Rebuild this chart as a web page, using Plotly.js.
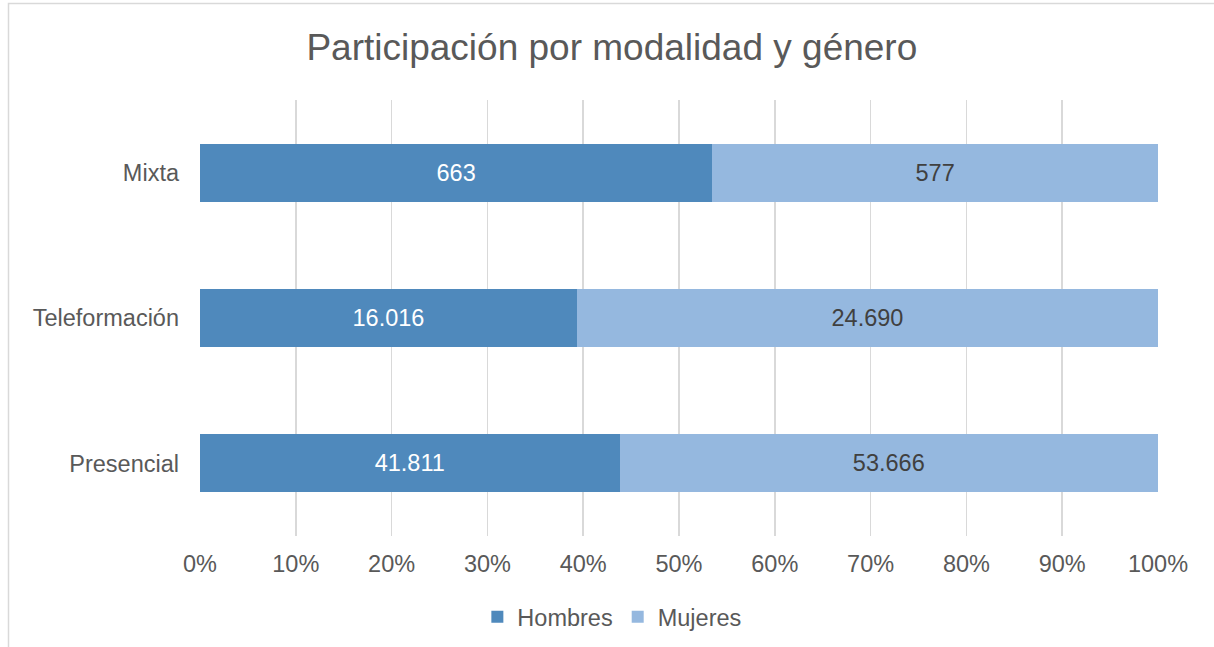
<!DOCTYPE html>
<html>
<head>
<meta charset="utf-8">
<script src="https://cdn.plot.ly/plotly-3.0.1.min.js"></script>
<style>
html,body{margin:0;padding:0;background:#fff;}
#chart{width:1214px;height:647px;}
</style>
</head>
<body>
<div id="chart"></div>
<script>
const categories = ["Presencial", "Teleformación", "Mixta"];
const hombres = [41811, 16016, 663];
const mujeres = [53666, 24690, 577];
const tickVals = [0, 10, 20, 30, 40, 50, 60, 70, 80, 90, 100];
const tickText = ["0%", "10%", "20%", "30%", "40%", "50%", "60%", "70%", "80%", "90%", "100%"];

const font = "Liberation Sans, Arial, sans-serif";
const fs = 23.5;

const traces = [
  {
    type: "bar", orientation: "h", name: "Hombres",
    y: categories, x: hombres, customdata: hombres,
    marker: {color: "#4f89bc"},
    texttemplate: "%{customdata:,}", textposition: "inside", insidetextanchor: "middle",
    textfont: {family: font, size: fs, color: "#ffffff"},
    hoverinfo: "skip"
  },
  {
    type: "bar", orientation: "h", name: "Mujeres",
    y: categories, x: mujeres, customdata: mujeres,
    marker: {color: "#95b8df"},
    texttemplate: "%{customdata:,}", textposition: "inside", insidetextanchor: "middle",
    textfont: {family: font, size: fs, color: "#404040"},
    hoverinfo: "skip"
  }
];

const layout = {
  width: 1214, height: 647,
  paper_bgcolor: "#ffffff", plot_bgcolor: "#ffffff",
  separators: ",.",
  barmode: "stack", barnorm: "percent", bargap: 0.6,
  font: {family: font, color: "#595959", size: fs},
  title: {text: "Participación por modalidad y género", font: {family: font, size: 37, color: "#595959"},
          x: 0.504, xanchor: "center", y: 0.927, yanchor: "middle"},
  margin: {l: 199.5, r: 55.5, t: 100, b: 111, autoexpand: false},
  xaxis: {range: [0, 100], tickvals: tickVals, ticktext: tickText, showgrid: true,
          gridcolor: "#d9d9d9", gridwidth: 1.5, zeroline: false, showline: false, ticks: "",
          ticklabelstandoff: 11, tickfont: {family: font, size: fs, color: "#595959"}, fixedrange: true},
  yaxis: {showgrid: false, zeroline: false, showline: false, ticks: "", ticklabelstandoff: 20,
          tickfont: {family: font, size: fs, color: "#595959"}, fixedrange: true},
  showlegend: true,
  legend: {orientation: "h", x: 0.504, xanchor: "center", xref: "container",
           y: 0.0464, yanchor: "middle", yref: "container",
           font: {family: font, size: fs, color: "#595959"}, traceorder: "normal", itemwidth: 30},
  annotations: []
};

Plotly.newPlot("chart", traces, layout, {displayModeBar: false, staticPlot: true}).then(function(){
  const svg = document.querySelector("#chart .main-svg");
  const ns = "http://www.w3.org/2000/svg";
  const r = document.createElementNS(ns, "rect");
  r.setAttribute("x", "8.5"); r.setAttribute("y", "3.5");
  r.setAttribute("width", "1230"); r.setAttribute("height", "660");
  r.setAttribute("fill", "none"); r.setAttribute("stroke", "#d9d9d9"); r.setAttribute("stroke-width", "1.5");
  svg.appendChild(r);
});
</script>
</body>
</html>
